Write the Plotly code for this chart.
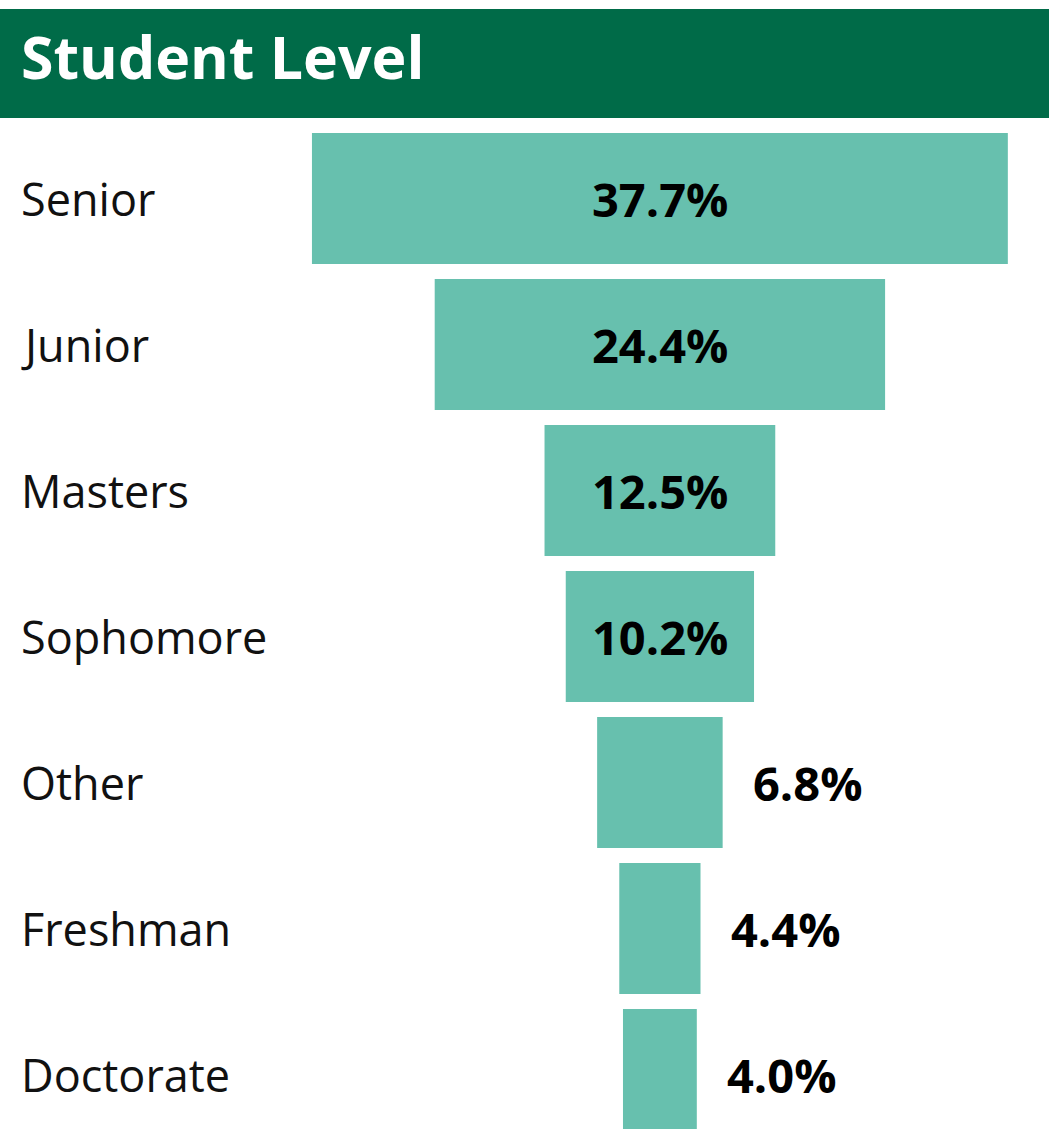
import plotly.graph_objects as go

categories = ["Senior", "Junior", "Masters", "Sophomore", "Other", "Freshman", "Doctorate"]
values = [37.7, 24.4, 12.5, 10.2, 6.8, 4.4, 4.0]
value_labels = ["37.7%", "24.4%", "12.5%", "10.2%", "6.8%", "4.4%", "4.0%"]
title_text = "Student Level"

BAR_COLOR = "#67C0AE"
TITLE_BG = "#006B48"
FONT = "Open Sans"

W, H = 1049, 1129

fig = go.Figure()
fig.add_trace(go.Bar(
    y=categories,
    x=values,
    base=[-v / 2 for v in values],
    orientation="h",
    marker=dict(color=BAR_COLOR, line=dict(width=0)),
    hoverinfo="skip",
    showlegend=False,
))

annotations = []
# category labels
for c in categories:
    annotations.append(dict(
        x=0, xref="paper", y=c, yref="y", xanchor="left", yanchor="middle",
        xshift=19, text=c, showarrow=False,
        font=dict(family=FONT, size=45, color="#111111"),
    ))
# value labels
for c, v, t in zip(categories, values, value_labels):
    if v >= 10:
        annotations.append(dict(
            x=0, xref="x", y=c, yref="y", xanchor="center", yanchor="middle",
            text="<b>%s</b>" % t, showarrow=False,
            font=dict(family=FONT, size=47, color="#000000"),
        ))
    else:
        annotations.append(dict(
            x=v / 2, xref="x", y=c, yref="y", xanchor="left", yanchor="middle",
            xshift=28, text="<b>%s</b>" % t, showarrow=False,
            font=dict(family=FONT, size=47, color="#000000"),
        ))
# title
annotations.append(dict(
    x=0, xref="paper", y=1 - 56 / H, yref="paper", xanchor="left", yanchor="middle",
    xshift=19, text="<b>%s</b>" % title_text, showarrow=False,
    font=dict(family=FONT, size=59, color="#FFFFFF"),
))

fig.update_layout(
    width=W, height=H,
    margin=dict(l=0, r=0, t=0, b=0),
    paper_bgcolor="white", plot_bgcolor="white",
    bargap=0.103,
    xaxis=dict(range=[-35.75, 21.08], visible=False, fixedrange=True),
    yaxis=dict(categoryorder="array", categoryarray=categories,
               range=[6.373, -1.3596], visible=False, fixedrange=True),
    shapes=[dict(type="rect", xref="paper", yref="paper",
                 x0=0, x1=1, y0=1 - 118 / H, y1=1 - 9 / H,
                 fillcolor=TITLE_BG, line=dict(width=0), layer="above")],
    annotations=annotations,
)

fig.write_html(
    "out.html",
    config={"displayModeBar": False},
    post_script="document.body.style.margin='0';document.body.style.overflow='hidden';",
)
